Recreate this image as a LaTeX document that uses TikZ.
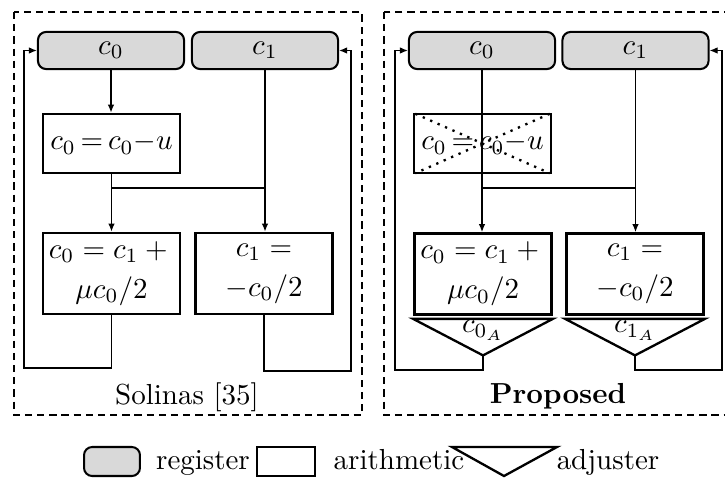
\documentclass[tikz,border=0pt]{standalone}
\usetikzlibrary{arrows.meta,calc}
\begin{document}
\begin{tikzpicture}[x=0.345pt,y=-0.345pt,
  reg/.style={draw,line width=0.7pt,rounded corners=2.8pt,fill=gray!30,minimum width=50.4pt,minimum height=12.8pt,inner sep=0pt},
  arith/.style={draw,line width=0.9pt,minimum width=47.3pt,inner sep=0pt,align=center},
  wire/.style={line width=0.45pt},
  arr/.style={wire,-{Latex[length=2.8pt,width=2.3pt]}},
  frame/.style={line width=0.45pt,dash pattern=on 2.5pt off 1.7pt},
  adj/.style={draw,line width=0.8pt,line join=miter},
]
\useasboundingbox (0,0) rectangle (725,477);
% frames
\draw[frame] (14,12) rectangle (362,415);
\draw[frame] (384,12) rectangle (745,415);

% ---------- left panel ----------
\node[reg] (r0L) at (111,50.5) {$c_0$};
\node[reg] (r1L) at (265,50.5) {$c_1$};
\node[arith,minimum height=20.4pt] (sL) at (111.5,143.5) {$c_0\,{=}\,c_0{-}u$};
\node[arith,minimum height=28pt] (b0L) at (111.5,273.5) {$c_0 = c_1 + {}$\\[1.8pt]$\mu c_0/2$};
\node[arith,minimum height=28pt] (b1L) at (264,273.5) {$c_1 =$\\[1.8pt]$-c_0/2$};

\coordinate (jL) at (111.5,188);
\coordinate (fL0) at (24,368);
\coordinate (fL1) at (351,371);
\draw[arr] (r0L.south) -- (r0L.south |- sL.north);
\draw[arr] (sL.south) -- (b0L.north);
\draw[arr] (r1L.south) -- (r1L.south |- b1L.north);
\draw[wire] (sL.south |- jL) -- (r1L.south |- jL);
\draw[arr] (b0L.south) |- (fL0) |- (r0L.west);
\draw[arr] (b1L.south) |- (fL1) |- (r1L.east);

\node[anchor=base] (solinas) at (187,404) {Solinas [35]};

% ---------- right panel ----------
\node[reg] (r0R) at (482,50.5) {$c_0$};
\node[reg] (r1R) at (635.5,50.5) {$c_1$};
\node[arith,minimum height=20.4pt] (sR) at (482.5,143.5) {$c_0\,{=}\,c_0{-}u$};
\draw[dotted,line width=0.8pt,shorten >=1pt,shorten <=1pt] (sR.north west) -- (sR.south east);
\draw[dotted,line width=0.8pt,shorten >=1pt,shorten <=1pt] (sR.north east) -- (sR.south west);
\node[arith,minimum height=28pt] (b0R) at (483,274) {$c_0 = c_1 + {}$\\[1.8pt]$\mu c_0/2$};
\node[arith,minimum height=28pt] (b1R) at (635,274) {$c_1 =$\\[1.8pt]$-c_0/2$};

\coordinate (a0) at ($(b0R.south)+(0,39.5)$);
\coordinate (a1) at ($(b1R.south)+(0,39.5)$);
\draw[adj] ($(b0R.south west)+(0,3)$) -- ($(b0R.south east)+(0,3)$) -- (a0) -- cycle;
\draw[adj] ($(b1R.south west)+(0,3)$) -- ($(b1R.south east)+(0,3)$) -- (a1) -- cycle;
\node[anchor=base] (l0) at ($(b0R.south)+(0,17)$) {$c_{0_A}$};
\node[anchor=base] (l1) at ($(b1R.south)+(0,17)$) {$c_{1_A}$};

\coordinate (jR) at (482,188);
\coordinate (fR0) at (395,370);
\coordinate (fR1) at (722,370);
\draw[arr] (r0R.south) -- (r0R.south |- b0R.north);
\draw[arr] (r1R.south) -- (r1R.south |- b1R.north);
\draw[wire] (r0R.south |- jR) -- (r1R.south |- jR);
\draw[arr] (a0) |- (fR0) |- (r0R.west);
\draw[arr] (a1) |- (fR1) |- (r1R.east);

\node[anchor=base] (prop) at (558,403) {\textbf{Proposed}};

% ---------- legend ----------
\node[reg,minimum width=19.3pt,minimum height=10pt] (lgR) at (112,461.5) {};
\node[anchor=base] (lgRt) at (203,469) {register};
\node[draw,line width=0.9pt,minimum width=20pt,minimum height=10pt,inner sep=0pt] (lgA) at (286,461.5) {};
\node[anchor=base] (lgAt) at (399,469) {arithmetic};
\draw[adj] (452,447) -- (557,447) -- (504,476) -- cycle;
\node[anchor=base] (lgJt) at (608,469) {adjuster};
\end{tikzpicture}
\end{document}
